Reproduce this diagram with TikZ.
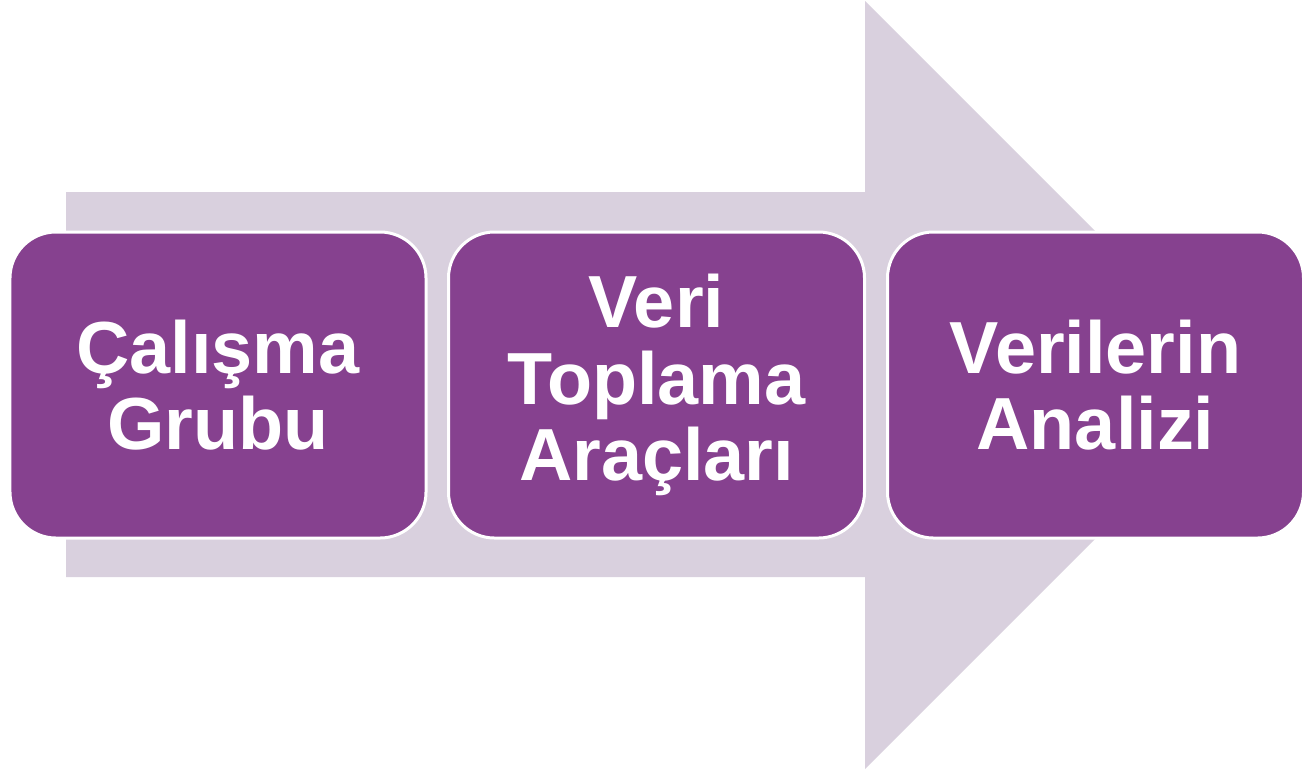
\documentclass[tikz,border=0pt]{standalone}
\usepackage{fontspec}
\setmainfont{Liberation Sans}
\usetikzlibrary{positioning}
\definecolor{boxpurple}{HTML}{86418F}
\definecolor{arrowlilac}{HTML}{D9D0DE}
\tikzset{
	stepbox/.style={draw=white, line width=0.6mm, fill=boxpurple, rounded corners=9.2mm,
		minimum width=83.2mm, minimum height=61.2mm, align=center, text=white,
		font=\fontsize{42}{43.5}\selectfont\bfseries}
}

\begin{document}
\begin{tikzpicture}[x=0.2mm, y=-0.2mm]
			%%%%% START %%%%%
			
			\useasboundingbox (0, 0) rectangle (1304, 770);
			
			% big arrow behind the boxes
			\fill[arrowlilac] (66, 192) -- (865, 192) -- (865, 1) -- (1249, 385)
				-- (865, 769) -- (865, 577) -- (66, 577) -- cycle;
			
			% the three steps
			\node[stepbox] (calisma) at (218, 385) {Çalışma\\Grubu};
			\node[stepbox] (toplama) at (656.5, 385) {Veri\\Toplama\\Araçları};
			\node[stepbox] (analiz) at (1095.5, 385) {Verilerin\\Analizi};
			
			%%%%% END %%%%%
		\end{tikzpicture}
\end{document}
